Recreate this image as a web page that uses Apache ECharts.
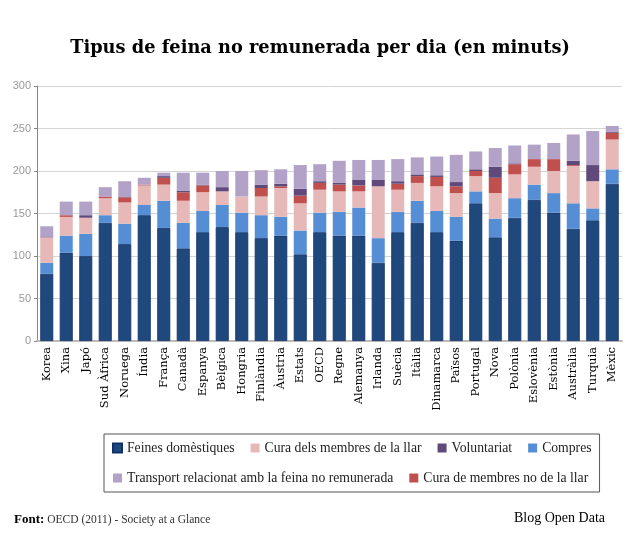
<!DOCTYPE html>
<html>
<head>
<meta charset="utf-8">
<script src="https://cdn.jsdelivr.net/npm/echarts@6/dist/echarts.min.js"></script>
<style>
  html, body { margin: 0; padding: 0; background: #fff; }
  #chart { width: 640px; height: 538px; }
</style>
</head>
<body>
<div id="chart"></div>
<script>
// Categories (countries, in Catalan)
const countries = ['Korea', 'Xina', 'Japó', 'Sud Àfrica', 'Noruega', 'Índia', 'França', 'Canadà', 'Espanya', 'Bèlgica',
  'Hongria', 'Finlàndia', 'Àustria', 'Estats', 'OECD', 'Regne', 'Alemanya', 'Irlanda', 'Suècia', 'Itàlia',
  'Dinamarca', 'Països', 'Portugal', 'Nova', 'Polònia', 'Eslovènia', 'Estònia', 'Austràlia', 'Turquia', 'Mèxic']

// Minutes per day, stacked from the bottom
const feines = [79, 104, 100, 139, 114, 148, 133, 109, 128, 134, 128, 121, 124, 102, 128, 124, 124, 92, 128, 139, 128, 118, 162, 122, 145, 166, 151, 132, 142, 185]
const compres = [13, 20, 26, 9, 24, 12, 32, 30, 25, 26, 23, 27, 22, 28, 23, 28, 33, 29, 24, 26, 25, 28, 14, 22, 23, 18, 23, 30, 14, 17]
const curaLlar = [30, 22, 19, 20, 25, 23, 19, 26, 22, 16, 19, 22, 34, 32, 27, 24, 19, 61, 26, 21, 29, 28, 18, 30, 28, 21, 26, 44, 32, 35]
const curaNoLlar = [0, 2, 0, 2, 6, 1, 8, 10, 8, 0, 0, 10, 2, 9, 8, 8, 7, 0, 7, 8, 11, 8, 6, 18, 12, 9, 14, 1, 0, 8]
const voluntariat = [1, 0, 3, 0, 1, 0, 2, 2, 1, 5, 0, 4, 3, 8, 2, 2, 7, 8, 3, 2, 2, 5, 2, 13, 1, 0, 0, 5, 19, 1]
const transport = [12, 16, 16, 11, 18, 8, 4, 21, 14, 19, 30, 17, 17, 28, 20, 26, 23, 23, 26, 20, 22, 32, 21, 22, 21, 17, 19, 31, 40, 7]

const yTicks = [0, 50, 100, 150, 200, 250, 300]

const serif = '"Liberation Serif", "DejaVu Serif", serif'
const dejavu = '"DejaVu Serif", serif'

const chart = echarts.init(document.getElementById('chart'))

const makeSeries = (name, data, color, border) => ({
  name: name,
  type: 'bar',
  stack: 'total',
  data: data,
  barWidth: 13,
  itemStyle: { color: color, borderColor: border || color, borderWidth: border ? 0.8 : 0 },
  emphasis: { disabled: true }
})

const option = {
  animation: false,
  title: {
    text: 'Tipus de feina no remunerada per dia (en minuts)',
    left: 'center',
    top: 34,
    textStyle: { fontFamily: dejavu, fontSize: 17.8, fontWeight: 'bold', color: '#000' }
  },
  legend: {
    left: 104,
    top: 434,
    width: 500,
    padding: [7, 8, 7, 8],
    itemGap: 16,
    itemWidth: 9,
    itemHeight: 9,
    icon: 'rect',
    borderColor: '#555',
    borderWidth: 1,
    textStyle: { fontFamily: serif, fontSize: 13.7, color: '#222' },
    data: ['Feines domèstiques', 'Cura dels membres de la llar', 'Voluntariat', 'Compres',
      'Transport relacionat amb la feina no remunerada', 'Cura de membres no de la llar']
  },
  grid: { left: 37, right: 18, top: 86, bottom: 197 },
  xAxis: {
    type: 'category',
    data: countries,
    axisLine: { lineStyle: { color: '#bbb', width: 2 } },
    axisTick: { show: false },
    axisLabel: {
      rotate: 90,
      interval: 0,
      margin: 6,
      fontFamily: dejavu,
      fontSize: 11.5,
      color: '#000'
    }
  },
  yAxis: {
    type: 'value',
    min: yTicks[0],
    max: yTicks[yTicks.length - 1],
    interval: 50,
    axisLine: { show: true, lineStyle: { color: '#888' } },
    axisTick: { show: true, length: 3, lineStyle: { color: '#888' } },
    axisLabel: { color: '#999', fontSize: 11, fontFamily: 'Arial, "Liberation Sans", sans-serif', margin: 6 },
    splitLine: { lineStyle: { color: '#d4d4d4', width: 1 } }
  },
  series: [
    makeSeries('Feines domèstiques', feines, '#1f497d', '#10306a'),
    makeSeries('Compres', compres, '#558ed5'),
    makeSeries('Cura dels membres de la llar', curaLlar, '#e6b9b8'),
    makeSeries('Cura de membres no de la llar', curaNoLlar, '#c0504d'),
    makeSeries('Voluntariat', voluntariat, '#604a7b'),
    makeSeries('Transport relacionat amb la feina no remunerada', transport, '#b3a2c7')
  ],
  graphic: [
    {
      type: 'text',
      left: 14,
      top: 513,
      style: {
        text: '{b|Font:} OECD (2011) - Society at a Glance',
        rich: {
          b: { fontFamily: serif, fontSize: 13, fontWeight: 'bold', fill: '#000' }
        },
        fontFamily: serif,
        fontSize: 11.5,
        fill: '#333'
      }
    },
    {
      type: 'text',
      right: 35,
      top: 511,
      style: {
        text: 'Blog Open Data',
        fontFamily: serif,
        fontSize: 14,
        fill: '#000'
      }
    }
  ]
}

chart.setOption(option)
</script>
</body>
</html>
